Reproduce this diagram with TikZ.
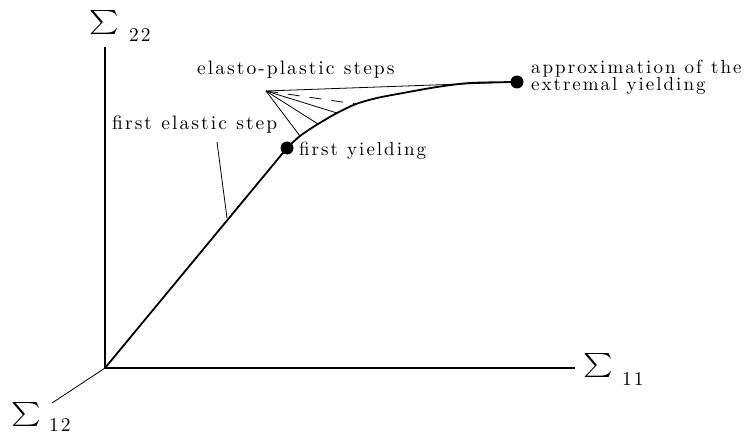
\documentclass[tikz,border=0pt]{standalone}
\usepackage{fontspec}
\usepackage{graphicx}
\newfontfamily\labfont[LetterSpace=10.5,WordSpace=1.1]{lmroman10-regular.otf}
\begin{document}
\begin{tikzpicture}[x=1pt,y=-1pt,
  lab/.style={font=\labfont\fontsize{19.5}{17}\selectfont, inner sep=0pt},
  sig/.style={inner sep=0pt},
  axis/.style={line width=1.8pt},
  curve/.style={line width=1.8pt, line join=round, line cap=round},
  thin/.style={line width=0.8pt},
  dot/.style={circle, fill=black, inner sep=0pt, minimum size=13pt}]
\useasboundingbox (0,0) rectangle (748,436);
% axes
\coordinate (O) at (105,368);
\coordinate (Y) at (105,47);
\coordinate (X) at (575,368);
\coordinate (Z) at (52,403);
\draw[axis] (O) -- (Y);
\draw[axis] (O) -- (X);
\draw[thin] (O) -- (Z);
% axis labels
\newcommand{\bigsig}{\scalebox{2.8}[2.4]{$\textstyle\sum$}}
\node[sig] (s22) at (104,23) {\bigsig};
\node[lab, anchor=base west] (n22) at (129,41.5) {22};
\node[sig] (s11) at (598,365) {\bigsig};
\node[lab, anchor=base west] (n11) at (622,385) {11};
\node[sig] (s12) at (26,414) {\bigsig};
\node[lab, anchor=base west] (n12) at (49,431.5) {12};
% curve points
\node[dot] (fy) at (287,148) {};
\node[dot] (ey) at (517,82) {};
\coordinate (P1) at (300,136);
\coordinate (P2) at (318,124);
\coordinate (P3) at (337,113);
\coordinate (P4) at (356,104);
\coordinate (P5) at (377,98);
\coordinate (P6) at (403,93);
\coordinate (P7) at (437,87);
\coordinate (P8) at (470,83);
\draw[curve] (O) -- (fy.center);
\draw[curve] plot[smooth, tension=0.5] coordinates {(fy.center) (P1) (P2) (P3) (P4) (P5) (P6) (P7) (P8) (ey.center)};
% fan
\coordinate (A) at (266,91);
\draw[thin] (A) -- (P1);
\draw[thin] (A) -- (P2);
\draw[thin] (A) -- (P3);
\draw[thin, dash pattern=on 12pt off 10pt] (A) -- (P4);
\draw[thin] (A) -- (ey.center);
% elastic leader
\coordinate (L1) at (217,142);
\coordinate (L2) at (227,218);
\draw[thin] (L1) -- (L2);
% labels
\node[lab, anchor=base west] (eps) at (197,74.5) {elasto-plastic steps};
\node[lab, anchor=base west] (fes) at (112,130) {first elastic step};
\node[lab, font=\labfont\fontsize{19}{17}\selectfont, anchor=base west] (fyl) at (299,156) {first yielding};
\node[lab, font=\labfont\fontsize{19}{17}\selectfont, anchor=north west, align=left] (apx) at (531,60) {approximation of the\\extremal yielding};
\end{tikzpicture}
\end{document}
